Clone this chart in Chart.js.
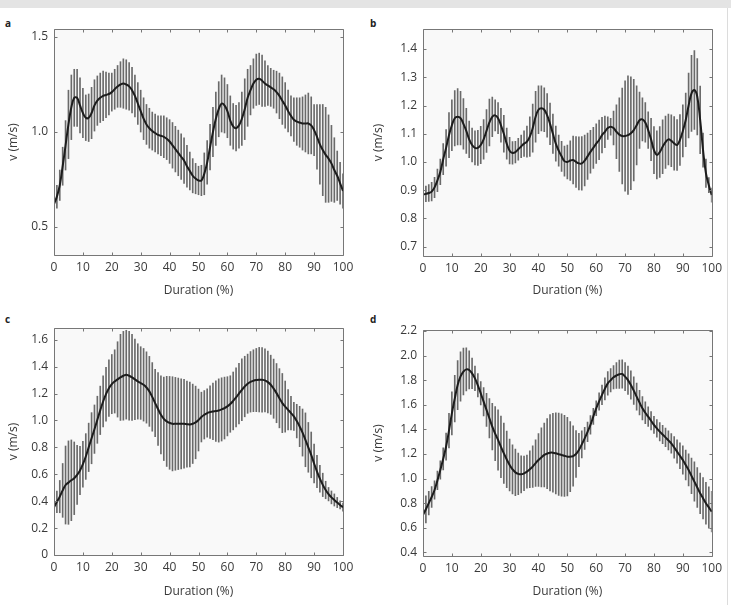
<!DOCTYPE html>
<html>
<head>
<meta charset="utf-8">
<script src="https://cdn.jsdelivr.net/npm/chart.js@4.4.1/dist/chart.umd.min.js"></script>
<style>
  body { margin: 0; background: #fff; width: 731px; height: 605px; position: relative; overflow: hidden; font-family: 'Open Sans', sans-serif; }
  .topbar { position: absolute; left: 0; top: 0; width: 731px; height: 8px; background: #e4e4e4; }
  .edge { position: absolute; left: 727px; top: 8px; width: 1px; height: 597px; background: #dcdcdc; }
  .lbl { position: absolute; font-weight: bold; font-size: 10px; color: #222; }
  canvas { position: absolute; }
</style>
</head>
<body>
<div class="topbar"></div>
<div class="edge"></div>
<div class="lbl" style="left:5px;top:16px">a</div>
<div class="lbl" style="left:370px;top:16px">b</div>
<div class="lbl" style="left:5px;top:312px">c</div>
<div class="lbl" style="left:370px;top:312px">d</div>
<canvas id="cA" width="365" height="295" style="left:0;top:10px"></canvas>
<canvas id="cB" width="362" height="295" style="left:365px;top:10px"></canvas>
<canvas id="cC" width="365" height="300" style="left:0;top:305px"></canvas>
<canvas id="cD" width="362" height="300" style="left:365px;top:305px"></canvas>
<script>
// Duration (%) - one bar per percent
const duration = Array.from({ length: 101 }, (_, i) => i);
const xTicks = [0, 10, 20, 30, 40, 50, 60, 70, 80, 90, 100];

// panel a
const meanA = [0.62, 0.66, 0.72, 0.82, 0.93, 1.04, 1.13, 1.18, 1.18, 1.14,
  1.10, 1.075, 1.075, 1.10, 1.14, 1.165, 1.18, 1.19, 1.195, 1.20,
  1.21, 1.225, 1.24, 1.25, 1.255, 1.25, 1.24, 1.22, 1.19, 1.15,
  1.11, 1.07, 1.04, 1.02, 1.005, 0.995, 0.985, 0.98, 0.975, 0.965,
  0.95, 0.93, 0.91, 0.89, 0.87, 0.85, 0.82, 0.795, 0.77, 0.755,
  0.745, 0.745, 0.78, 0.84, 0.92, 1.00, 1.07, 1.12, 1.15, 1.14,
  1.11, 1.06, 1.03, 1.02, 1.035, 1.07, 1.12, 1.18, 1.22, 1.255,
  1.275, 1.28, 1.27, 1.255, 1.245, 1.235, 1.225, 1.21, 1.19, 1.165,
  1.14, 1.11, 1.085, 1.065, 1.055, 1.05, 1.045, 1.045, 1.045, 1.035,
  1.01, 0.975, 0.935, 0.905, 0.88, 0.86, 0.835, 0.80, 0.77, 0.73, 0.69];
const sdA = [0.05, 0.06, 0.08, 0.10, 0.13, 0.18, 0.17, 0.15, 0.15, 0.145,
  0.13, 0.12, 0.125, 0.135, 0.135, 0.13, 0.13, 0.13, 0.12, 0.11,
  0.10, 0.105, 0.11, 0.12, 0.13, 0.13, 0.125, 0.12, 0.11, 0.11,
  0.11, 0.11, 0.105, 0.105, 0.10, 0.10, 0.10, 0.105, 0.11, 0.11,
  0.115, 0.12, 0.12, 0.12, 0.12, 0.12, 0.11, 0.10, 0.09, 0.08,
  0.075, 0.08, 0.11, 0.115, 0.12, 0.13, 0.14, 0.145, 0.15, 0.145,
  0.14, 0.13, 0.12, 0.12, 0.12, 0.14, 0.16, 0.15, 0.13, 0.13,
  0.135, 0.135, 0.135, 0.12, 0.105, 0.10, 0.10, 0.11, 0.12, 0.125,
  0.12, 0.11, 0.105, 0.115, 0.125, 0.13, 0.14, 0.15, 0.16, 0.15,
  0.135, 0.17, 0.21, 0.24, 0.25, 0.23, 0.20, 0.17, 0.13, 0.11, 0.09];
const yTicksA = [0.5, 1.0, 1.5];

// panel b
const meanB = [0.885, 0.887, 0.89, 0.895, 0.91, 0.935, 0.965, 1.01, 1.05, 1.095,
  1.13, 1.155, 1.16, 1.155, 1.135, 1.11, 1.08, 1.06, 1.05, 1.05,
  1.06, 1.08, 1.11, 1.14, 1.16, 1.165, 1.155, 1.13, 1.10, 1.065,
  1.04, 1.032, 1.035, 1.045, 1.055, 1.065, 1.072, 1.09, 1.12, 1.16,
  1.185, 1.19, 1.185, 1.165, 1.135, 1.10, 1.065, 1.04, 1.02, 1.003,
  1.0, 1.005, 1.007, 1.0, 0.995, 0.995, 1.005, 1.02, 1.036, 1.05,
  1.065, 1.078, 1.095, 1.107, 1.12, 1.125, 1.12, 1.107, 1.097, 1.092,
  1.092, 1.095, 1.102, 1.113, 1.13, 1.148, 1.151, 1.14, 1.113, 1.08,
  1.042, 1.025, 1.035, 1.054, 1.07, 1.08, 1.075, 1.066, 1.06, 1.078,
  1.11, 1.149, 1.20, 1.243, 1.255, 1.231, 1.149, 1.042, 0.96, 0.918, 0.883];
const sdB = [0.027, 0.028, 0.03, 0.033, 0.036, 0.04, 0.045, 0.055, 0.065, 0.08,
  0.09, 0.098, 0.10, 0.095, 0.09, 0.08, 0.065, 0.06, 0.06, 0.062,
  0.066, 0.07, 0.076, 0.083, 0.07, 0.055, 0.055, 0.06, 0.065, 0.055,
  0.047, 0.04, 0.038, 0.039, 0.04, 0.045, 0.055, 0.07, 0.085, 0.09,
  0.085, 0.08, 0.078, 0.077, 0.074, 0.07, 0.062, 0.055, 0.053, 0.053,
  0.06, 0.07, 0.085, 0.09, 0.094, 0.095, 0.09, 0.082, 0.076, 0.073,
  0.07, 0.07, 0.063, 0.056, 0.04, 0.03, 0.06, 0.095, 0.13, 0.17,
  0.195, 0.21, 0.20, 0.18, 0.14, 0.10, 0.076, 0.07, 0.065, 0.075,
  0.083, 0.085, 0.09, 0.095, 0.093, 0.09, 0.092, 0.095, 0.09, 0.09,
  0.092, 0.095, 0.115, 0.135, 0.14, 0.135, 0.12, 0.06, 0.05, 0.027, 0.025];
const yTicksB = [0.7, 0.8, 0.9, 1.0, 1.1, 1.2, 1.3, 1.4];

// panel c
const meanC = [0.355, 0.395, 0.434, 0.48, 0.52, 0.538, 0.555, 0.57, 0.595, 0.628,
  0.675, 0.732, 0.80, 0.868, 0.935, 1.005, 1.075, 1.141, 1.195, 1.24,
  1.27, 1.29, 1.305, 1.32, 1.332, 1.34, 1.332, 1.32, 1.305, 1.29,
  1.278, 1.265, 1.245, 1.216, 1.175, 1.129, 1.085, 1.042, 1.012, 0.993,
  0.982, 0.975, 0.975, 0.975, 0.975, 0.975, 0.972, 0.97, 0.975, 0.985,
  1.003, 1.025, 1.042, 1.055, 1.062, 1.067, 1.07, 1.074, 1.082, 1.092,
  1.105, 1.122, 1.145, 1.171, 1.20, 1.228, 1.252, 1.273, 1.287, 1.295,
  1.30, 1.303, 1.302, 1.298, 1.285, 1.265, 1.236, 1.203, 1.165, 1.129,
  1.103, 1.079, 1.055, 1.03, 0.995, 0.955, 0.91, 0.856, 0.80, 0.744,
  0.68, 0.62, 0.567, 0.521, 0.483, 0.452, 0.428, 0.409, 0.39, 0.372, 0.355];
const sdC = [0.05, 0.08, 0.12, 0.20, 0.29, 0.31, 0.30, 0.27, 0.22, 0.18,
  0.17, 0.17, 0.18, 0.19, 0.18, 0.175, 0.18, 0.19, 0.20, 0.21,
  0.22, 0.235, 0.28, 0.32, 0.33, 0.33, 0.33, 0.32, 0.30, 0.28,
  0.27, 0.27, 0.265, 0.26, 0.255, 0.25, 0.27, 0.29, 0.31, 0.335,
  0.345, 0.35, 0.345, 0.34, 0.335, 0.33, 0.32, 0.315, 0.295, 0.27,
  0.23, 0.185, 0.18, 0.18, 0.195, 0.21, 0.225, 0.235, 0.235, 0.23,
  0.22, 0.21, 0.215, 0.22, 0.225, 0.23, 0.225, 0.22, 0.225, 0.23,
  0.235, 0.24, 0.24, 0.235, 0.23, 0.22, 0.22, 0.22, 0.22, 0.22,
  0.19, 0.15, 0.125, 0.105, 0.125, 0.15, 0.175, 0.20, 0.185, 0.17,
  0.145, 0.12, 0.10, 0.087, 0.065, 0.05, 0.048, 0.045, 0.038, 0.03, 0.03];
const yTicksC = [0, 0.2, 0.4, 0.6, 0.8, 1.0, 1.2, 1.4, 1.6];

// panel d
const meanD = [0.704, 0.75, 0.80, 0.85, 0.907, 0.985, 1.07, 1.16, 1.26, 1.39,
  1.53, 1.65, 1.76, 1.83, 1.87, 1.888, 1.883, 1.855, 1.815, 1.758,
  1.693, 1.625, 1.558, 1.49, 1.422, 1.365, 1.314, 1.258, 1.205, 1.155,
  1.11, 1.075, 1.05, 1.038, 1.034, 1.042, 1.056, 1.075, 1.097, 1.125,
  1.151, 1.172, 1.192, 1.203, 1.21, 1.21, 1.205, 1.198, 1.192, 1.185,
  1.178, 1.178, 1.183, 1.20, 1.232, 1.278, 1.327, 1.38, 1.436, 1.505,
  1.571, 1.627, 1.68, 1.73, 1.774, 1.80, 1.823, 1.838, 1.848, 1.85,
  1.829, 1.80, 1.76, 1.715, 1.666, 1.618, 1.571, 1.535, 1.503, 1.47,
  1.436, 1.408, 1.381, 1.358, 1.335, 1.31, 1.286, 1.253, 1.219, 1.185,
  1.151, 1.11, 1.07, 1.022, 0.975, 0.927, 0.88, 0.84, 0.799, 0.765, 0.731];
const sdD = [0.13, 0.11, 0.095, 0.085, 0.075, 0.075, 0.075, 0.09, 0.11, 0.14,
  0.175, 0.19, 0.20, 0.20, 0.19, 0.175, 0.155, 0.125, 0.10, 0.095,
  0.095, 0.115, 0.135, 0.16, 0.19, 0.22, 0.245, 0.25, 0.245, 0.23,
  0.21, 0.20, 0.19, 0.17, 0.15, 0.14, 0.135, 0.15, 0.17, 0.19,
  0.215, 0.24, 0.26, 0.285, 0.31, 0.32, 0.33, 0.335, 0.335, 0.33,
  0.32, 0.285, 0.245, 0.19, 0.135, 0.11, 0.09, 0.08, 0.075, 0.065,
  0.06, 0.07, 0.08, 0.09, 0.095, 0.095, 0.095, 0.105, 0.115, 0.115,
  0.115, 0.115, 0.115, 0.112, 0.11, 0.10, 0.095, 0.088, 0.08, 0.075,
  0.07, 0.072, 0.075, 0.075, 0.075, 0.078, 0.08, 0.088, 0.095, 0.105,
  0.115, 0.122, 0.13, 0.145, 0.16, 0.162, 0.165, 0.168, 0.17, 0.168, 0.165];
const yTicksD = [0.4, 0.6, 0.8, 1.0, 1.2, 1.4, 1.6, 1.8, 2.0, 2.2];

Chart.defaults.font.family = "'Open Sans', sans-serif";
Chart.defaults.font.size = 12;
Chart.defaults.color = '#3a3a3a';

// frame with small inward ticks on all four sides, light plot background
const boxPlugin = {
  id: 'box',
  beforeDatasetsDraw(chart) {
    const { ctx, chartArea: a } = chart;
    ctx.save();
    ctx.fillStyle = '#f9f9f9';
    ctx.fillRect(a.left, a.top, a.right - a.left, a.bottom - a.top);
    ctx.restore();
  },
  afterDraw(chart) {
    const { ctx, chartArea: a, scales } = chart;
    const L = Math.round(a.left) + 0.5, R = Math.round(a.right) + 0.5;
    const T = Math.round(a.top) + 0.5, B = Math.round(a.bottom) + 0.5;
    ctx.save();
    ctx.strokeStyle = '#777';
    ctx.lineWidth = 1;
    ctx.beginPath();
    ctx.rect(L, T, R - L, B - T);
    scales.x.ticks.forEach(t => {
      const px = Math.round(scales.x.getPixelForValue(t.value)) + 0.5;
      ctx.moveTo(px, B); ctx.lineTo(px, B - 3);
      ctx.moveTo(px, T); ctx.lineTo(px, T + 3);
    });
    scales.y.ticks.forEach(t => {
      const py = Math.round(scales.y.getPixelForValue(t.value)) + 0.5;
      ctx.moveTo(L, py); ctx.lineTo(L + 3, py);
      ctx.moveTo(R, py); ctx.lineTo(R - 3, py);
    });
    ctx.stroke();
    ctx.restore();
  }
};

function makePanel(id, mean, sd, yTicks, yMin, yMax, lay) {
  const bars = duration.map((d, i) => ({ x: d, y: [mean[i] - sd[i], mean[i] + sd[i]] }));
  const line = duration.map((d, i) => ({ x: d, y: mean[i] }));
  return new Chart(document.getElementById(id), {
    type: 'bar',
    data: {
      datasets: [
        { type: 'line', data: line, borderColor: '#1c1c1c', borderWidth: 2, pointRadius: 0, tension: 0.4, order: 0 },
        { type: 'bar', data: bars, backgroundColor: '#6a6a6a', barThickness: 1, borderWidth: 0, order: 1 }
      ]
    },
    options: {
      responsive: false,
      animation: false,
      devicePixelRatio: 1,
      layout: { padding: { left: 0, top: lay.top, right: lay.right, bottom: 0 } },
      plugins: { legend: { display: false }, tooltip: { enabled: false } },
      scales: {
        x: {
          type: 'linear', min: 0, max: 100, offset: false,
          grid: { display: false, drawTicks: false }, border: { display: false },
          afterBuildTicks: s => { s.ticks = xTicks.map(v => ({ value: v })); },
          afterFit: s => { s.height = lay.xh; },
          ticks: { padding: 5, maxRotation: 0, autoSkip: false },
          title: { display: true, text: 'Duration (%)', padding: { top: 0, bottom: lay.tb } }
        },
        y: {
          min: yMin, max: yMax,
          grid: { display: false, drawTicks: false }, border: { display: false },
          afterBuildTicks: s => { s.ticks = yTicks.map(v => ({ value: v })); },
          afterFit: s => { s.width = lay.yw; },
          ticks: { padding: 6, autoSkip: false, callback: v => v === 0 ? '0' : Number(v).toFixed(1) },
          title: { display: true, text: 'v (m/s)', padding: { top: 6, bottom: 0 } }
        }
      }
    },
    plugins: [boxPlugin]
  });
}

makePanel('cA', meanA, sdA, yTicksA, 0.353, 1.542, { top: 19, right: 22, xh: 50, yw: 54, tb: 7 });
makePanel('cB', meanB, sdB, yTicksB, 0.667, 1.471, { top: 19, right: 15, xh: 49, yw: 58, tb: 7 });
makePanel('cC', meanC, sdC, yTicksC, 0, 1.687, { top: 23, right: 22, xh: 50, yw: 54, tb: 6 });
makePanel('cD', meanD, sdD, yTicksD, 0.37, 2.208, { top: 25, right: 15, xh: 49, yw: 58, tb: 6 });
</script>
</body>
</html>
